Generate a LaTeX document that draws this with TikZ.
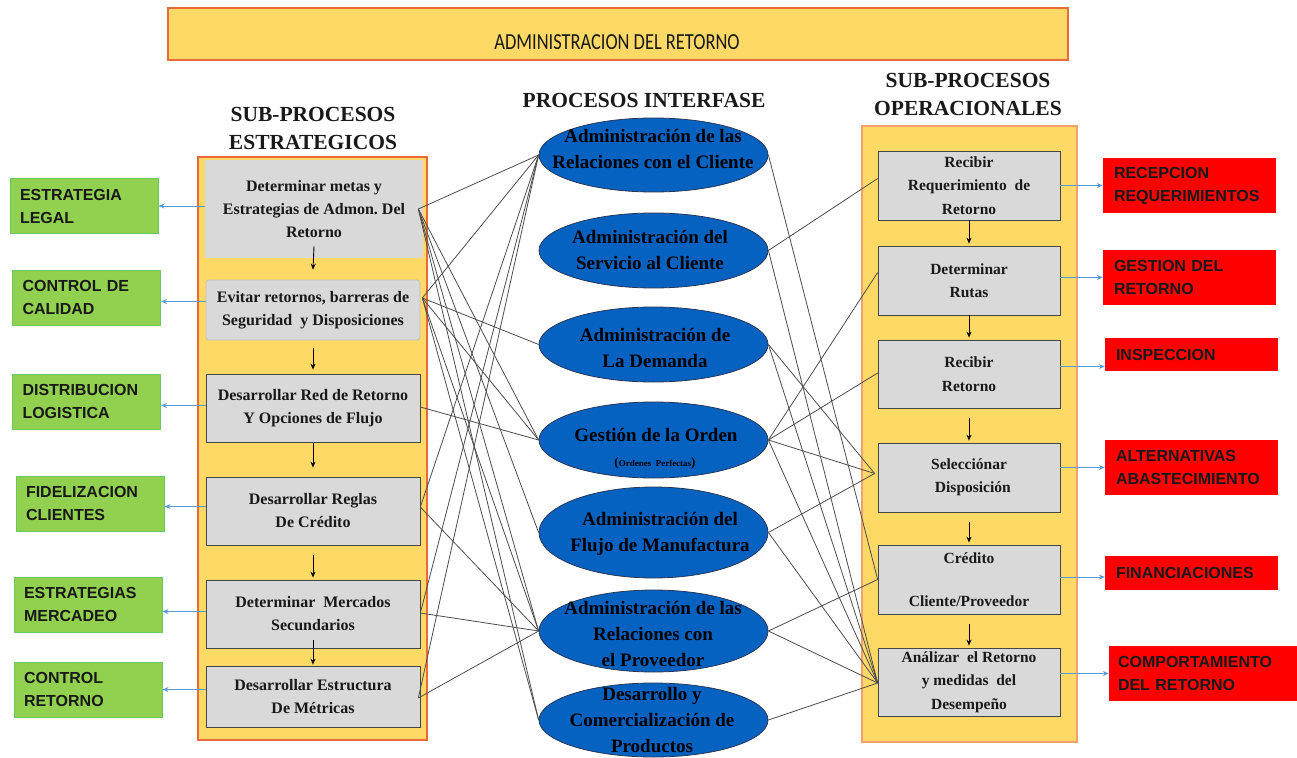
\documentclass[tikz,border=0pt]{standalone}
\usepackage{fontspec}
\setmainfont{Liberation Serif}
\newfontfamily\labelsans{Liberation Sans}
\newfontfamily\bannerfont[FakeStretch=0.8]{Carlito}
\usetikzlibrary{shapes.geometric,arrows.meta}

\definecolor{panelfill}{RGB}{255,217,102}
\definecolor{panelrim}{RGB}{236,105,60}
\definecolor{panelrimlight}{RGB}{244,160,110}
\definecolor{boxgray}{RGB}{217,217,217}
\definecolor{boxrim}{RGB}{70,70,70}
\definecolor{leafgreen}{RGB}{146,208,80}
\definecolor{leafrim}{RGB}{105,200,95}
\definecolor{alertred}{RGB}{255,0,0}
\definecolor{ellblue}{RGB}{6,98,192}
\definecolor{ellrim}{RGB}{40,55,85}
\definecolor{arrowblue}{RGB}{91,155,213}
\definecolor{inkdark}{RGB}{25,25,25}

\begin{document}
\begin{tikzpicture}[x=1pt,y=-1pt,
  panel/.style={draw=panelrim, fill=panelfill, line width=1.2pt},
  procbox/.style={draw=boxrim, fill=boxgray, line width=0.7pt, inner sep=0pt,
    align=center, text=inkdark, font=\bfseries\fontsize{16}{23}\selectfont},
  opbox/.style={procbox, font=\bfseries\fontsize{15.5}{23.5}\selectfont},
  leafbox/.style={draw=leafrim, fill=leafgreen, line width=1pt, minimum width=148pt,
    minimum height=55pt, inner sep=0pt, text width=128pt, align=left, text=inkdark,
    font=\labelsans\bfseries\fontsize{16}{23}\selectfont},
  alertbox/.style={fill=alertred, minimum width=173pt, minimum height=55pt, inner sep=0pt,
    text width=151pt, align=left, text=inkdark,
    font=\labelsans\bfseries\fontsize{16}{23}\selectfont},
  procell/.style={ellipse, draw=ellrim, fill=ellblue, line width=0.8pt,
    minimum width=229pt, inner sep=0pt},
  elltext/.style={align=center, text=black, inner sep=0pt,
    font=\bfseries\fontsize{19}{26}\selectfont},
  heading/.style={align=center, text=inkdark, inner sep=0pt,
    font=\bfseries\fontsize{21.5}{28}\selectfont},
  link/.style={draw=black!70, line width=0.8pt},
  downarrow/.style={draw=black, line width=0.9pt, -{Stealth[length=6pt,width=5pt]}},
  sidearrow/.style={draw=arrowblue, line width=1pt, -{Stealth[length=6pt,width=5pt]}}
]
\useasboundingbox (0,0) rectangle (1297,757);

% banner
\node[draw=panelrim, fill=panelfill, line width=1.2pt, minimum width=900pt,
  minimum height=52pt, inner sep=0pt] (banner) at (618,34) {};
\node[inner sep=0pt, text=inkdark, font=\bannerfont\fontsize{23}{26}\selectfont]
  (bannertext) at (617,42) {ADMINISTRACION DEL RETORNO};

% column headings
\node[heading] (hleft) at (313,128) {SUB-PROCESOS\\ESTRATEGICOS};
\node[heading] (hmid) at (644,100) {PROCESOS INTERFASE};
\node[heading] (hright) at (968,94) {SUB-PROCESOS\\OPERACIONALES};

% column panels
\node[panel, minimum width=229pt, minimum height=583pt, inner sep=0pt] (pleft) at (312.5,448.5) {};
\node[panel, draw=panelrimlight, minimum width=215pt, minimum height=616pt, inner sep=0pt] (pright) at (969.5,434) {};

% strategic sub-processes
\node[procbox, draw=none, minimum width=218pt, minimum height=98pt] (lb1) at (314,209)
  {Determinar metas y\\Estrategias de Admon.\ Del\\Retorno};
\node[procbox, draw=black!25, rounded corners=3pt, minimum width=214pt, minimum height=60pt] (lb2) at (313,310)
  {Evitar retornos, barreras de\\Seguridad\ \ y Disposiciones};
\node[procbox, minimum width=214pt, minimum height=68pt] (lb3) at (313,408)
  {Desarrollar Red de Retorno\\Y Opciones de Flujo};
\node[procbox, minimum width=214pt, minimum height=68pt] (lb4) at (313,511)
  {Desarrollar Reglas\\De Crédito};
\node[procbox, minimum width=214pt, minimum height=68pt] (lb5) at (313,614)
  {Determinar\ \ Mercados\\Secundarios};
\node[procbox, minimum width=214pt, minimum height=61pt] (lb6) at (313,696.5)
  {Desarrollar Estructura\\De Métricas};

\draw[downarrow] ([yshift=12pt]lb1.south) -- ([yshift=10pt]lb2.north);
\draw[downarrow] ([yshift=-8pt]lb2.south) -- ([yshift=4pt]lb3.north);
\draw[downarrow] ([yshift=-1pt]lb3.south) -- ([yshift=9pt]lb4.north);
\draw[downarrow] ([yshift=-10pt]lb4.south) -- ([yshift=2pt]lb5.north);
\draw[downarrow] ([yshift=8pt]lb5.south) -- ([yshift=1pt]lb6.north);

% strategic outcomes
\node[leafbox] (g1) at (84,206) {ESTRATEGIA\\LEGAL};
\node[leafbox] (g2) at (86.5,297.5) {CONTROL DE\\CALIDAD};
\node[leafbox] (g3) at (86.5,401.5) {DISTRIBUCION\\LOGISTICA};
\node[leafbox] (g4) at (90,503.5) {FIDELIZACION\\CLIENTES};
\node[leafbox] (g5) at (88,604.5) {ESTRATEGIAS\\MERCADEO};
\node[leafbox] (g6) at (88,689.5) {CONTROL\\RETORNO};

\draw[sidearrow] (lb1.west |- g1.east) -- (g1.east);
\draw[sidearrow] ([yshift=-4pt]lb2.west |- g2.east) -- ([yshift=-4pt]g2.east);
\draw[sidearrow] ([yshift=-4pt]lb3.west |- g3.east) -- ([yshift=-4pt]g3.east);
\draw[sidearrow] ([yshift=-3pt]lb4.west |- g4.east) -- ([yshift=-3pt]g4.east);
\draw[sidearrow] ([yshift=-7pt]lb5.west |- g5.east) -- ([yshift=-7pt]g5.east);
\draw[sidearrow] (lb6.west |- g6.east) -- (g6.east);

% interface processes
\node[procell, minimum height=74pt] (e1) at (653.5,155) {};
\node[procell, minimum height=75pt] (e2) at (653.5,250.5) {};
\node[procell, minimum height=75pt] (e3) at (653.5,344.5) {};
\node[procell, minimum height=76pt] (e4) at (653.5,440) {};
\node[procell, minimum height=91pt] (e5) at (653.5,532.5) {};
\node[procell, minimum height=82pt] (e6) at (653.5,631) {};
\node[procell, minimum height=74pt] (e7) at (653.5,720) {};

\node[elltext] (t1) at (653,149) {Administración de las\\Relaciones con el Cliente};
\node[elltext] (t2) at (650,250) {Administración del\\Servicio al Cliente};
\node[elltext] (t3) at (655,347.5) {Administración de\\La Demanda};
\node[elltext] (t4) at (656,435) {Gestión de la Orden};
\node[inner sep=0pt, text=black, font=\bfseries\fontsize{9}{11}\selectfont] (t4b) at (655,463)
  {{\fontsize{13}{13}\selectfont(}Ordenes\ \ Perfectas{\fontsize{13}{13}\selectfont)}};
\node[elltext] (t5) at (660,533.5) {Administración del\\Flujo de Manufactura};
\node[elltext] (t6) at (653,634) {Administración de las\\Relaciones con\\el Proveedor};
\node[elltext] (t7) at (652,720) {Desarrollo y\\Comercialización de\\Productos};

% operational sub-processes
\node[opbox, minimum width=182pt, minimum height=69pt] (rb1) at (969,185.5)
  {Recibir\\Requerimiento\ \ de\\Retorno};
\node[opbox, minimum width=182pt, minimum height=69pt] (rb2) at (969,280.5)
  {Determinar\\Rutas};
\node[opbox, minimum width=182pt, minimum height=68pt] (rb3) at (969,374)
  {Recibir\\Retorno};
\node[opbox, minimum width=182pt, minimum height=69pt] (rb4) at (969,477.5)
  {Selecciónar\\\ \ Disposición};
\node[opbox, minimum width=182pt, minimum height=69pt] (rb5) at (969,579.5)
  {Crédito\\[19pt]Cliente/Proveedor};
\node[opbox, minimum width=182pt, minimum height=68pt] (rb6) at (969,682)
  {Análizar\ \ el Retorno\\y medidas\ \ del\\Desempeño};

\draw[downarrow] (rb1.south) -- ([yshift=2pt]rb2.north);
\draw[downarrow] (rb2.south) -- ([yshift=2pt]rb3.north);
\draw[downarrow] ([yshift=-10pt]rb3.south) -- ([yshift=2pt]rb4.north);
\draw[downarrow] ([yshift=-10pt]rb4.south) -- ([yshift=2pt]rb5.north);
\draw[downarrow] ([yshift=-10pt]rb5.south) -- ([yshift=2pt]rb6.north);

% operational outcomes
\node[alertbox] (r1) at (1189.5,185.5) {RECEPCION\\REQUERIMIENTOS};
\node[alertbox] (r2) at (1189.5,277.5) {GESTION DEL\\RETORNO};
\node[alertbox, minimum height=33pt] (r3) at (1191.5,354.5) {INSPECCION};
\node[alertbox] (r4) at (1191.5,467.5) {ALTERNATIVAS\\ABASTECIMIENTO};
\node[alertbox, minimum height=34pt] (r5) at (1191.5,573) {FINANCIACIONES};
\node[alertbox, minimum width=188pt, text width=170pt] (r6) at (1203,673.5) {COMPORTAMIENTO\\DEL RETORNO};

\draw[sidearrow] (rb1.east |- r1.west) -- (r1.west);
\draw[sidearrow] (rb2.east |- r2.west) -- (r2.west);
\draw[sidearrow] ([yshift=-12pt]rb3.east |- r3.west) -- ([yshift=-12pt]r3.west);
\draw[sidearrow] (rb4.east |- r4.west) -- (r4.west);
\draw[sidearrow] ([yshift=-4pt]rb5.east |- r5.west) -- ([yshift=-4pt]r5.west);
\draw[sidearrow] (rb6.east |- r6.west) -- (r6.west);

% attachment points of the cross links
\coordinate (s1) at ([xshift=-5pt]lb1.east);
\coordinate (s2) at ([xshift=2pt,yshift=12pt]lb2.east);
\coordinate (s3) at ([yshift=1pt]lb3.east);
\coordinate (s4) at ([yshift=4pt]lb4.east);
\coordinate (s5) at ([yshift=1pt]lb5.east);
\coordinate (s6) at ([xshift=-2pt,yshift=-1.5pt]lb6.east);
\coordinate (o1) at ([yshift=7pt]rb1.west);
\coordinate (o2) at ([yshift=8pt]rb2.west);
\coordinate (o3) at ([yshift=1pt]rb3.west);
\coordinate (o4) at ([xshift=-3pt,yshift=4pt]rb4.west);
\coordinate (o5) at (rb5.west);
\coordinate (o6) at ([yshift=-1pt]rb6.west);

% strategic -- interface links
\draw[link] (s1) -- (e1.west);
\draw[link] (s1) -- (e4.west);
\draw[link] (s1) -- (e5.west);
\draw[link] (s1) -- (e6.west);
\draw[link] (s1) -- (e7.west);
\draw[link] (s2) -- (e1.west);
\draw[link] (s2) -- (e3.west);
\draw[link] (s2) -- (e4.west);
\draw[link] (s2) -- (e6.west);
\draw[link] (s2) -- (e7.west);
\draw[link] (s3) -- (e4.west);
\draw[link] (s4) -- (e1.west);
\draw[link] (s4) -- (e6.west);
\draw[link] (s5) -- (e1.west);
\draw[link] (s5) -- (e6.west);
\draw[link] (s6) -- (e1.west);
\draw[link] (s6) -- (e6.west);

% interface -- operational links
\draw[link] (e1.east) -- (o5);
\draw[link] (e2.east) -- (o1);
\draw[link] (e2.east) -- (o6);
\draw[link] (e3.east) -- (o4);
\draw[link] (e3.east) -- (o6);
\draw[link] (e4.east) -- (o2);
\draw[link] (e4.east) -- (o3);
\draw[link] (e4.east) -- (o4);
\draw[link] (e4.east) -- (o6);
\draw[link] (e5.east) -- (o4);
\draw[link] (e5.east) -- (o6);
\draw[link] (e6.east) -- (o5);
\draw[link] (e6.east) -- (o6);
\draw[link] (e7.east) -- (o6);
\end{tikzpicture}
\end{document}
